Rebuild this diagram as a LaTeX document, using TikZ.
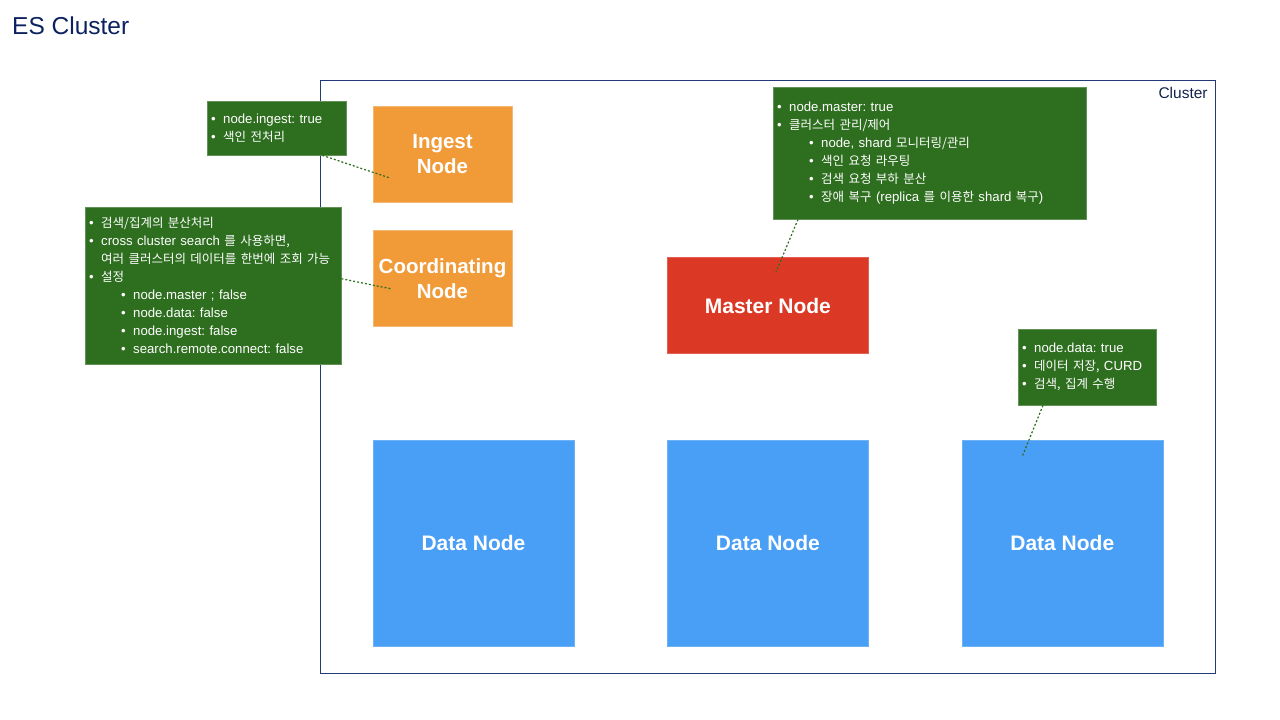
\documentclass[tikz,border=0pt]{standalone}
\usepackage{fontspec}
\setmainfont{Liberation Sans}
\newfontfamily\krfont[Scale=0.947]{Noto Sans CJK KR}
\newcommand\kr[1]{{\krfont #1}}
\newcommand\bul{\makebox[12pt][l]{\textbullet}}
\newcommand\sbul{\hspace*{32pt}\bul}
\frenchspacing
\usetikzlibrary{positioning}
\definecolor{notegreen}{RGB}{46,110,31}
\definecolor{rolebg}{RGB}{241,154,56}
\definecolor{masterbg}{RGB}{219,57,38}
\definecolor{databg}{RGB}{73,158,245}
\definecolor{framec}{RGB}{35,58,120}
\definecolor{titlec}{RGB}{12,33,95}
\tikzstyle{clusterbox} = [rectangle, anchor=north west, minimum width=895pt, minimum height=593pt, inner sep=0pt, draw=framec, line width=0.8pt]
\tikzstyle{rolenode} = [rectangle, minimum width=139pt, minimum height=96pt, text centered, align=center, draw=rolebg!70!white, fill=rolebg, text=white, font=\bfseries\fontsize{20.5}{25}\selectfont]
\tikzstyle{masternode} = [rectangle, minimum width=201pt, minimum height=96pt, text centered, draw=masterbg!80!white, fill=masterbg, text=white, font=\bfseries\fontsize{21}{25}\selectfont]
\tikzstyle{datanode} = [rectangle, minimum width=201pt, minimum height=206pt, text centered, draw=databg!80!white, fill=databg, text=white, font=\bfseries\fontsize{21}{25}\selectfont]
\tikzstyle{notebox} = [rectangle, anchor=north west, inner xsep=4pt, align=left, draw=notegreen!75!white, fill=notegreen, text=white, font=\fontsize{13.2}{18}\selectfont]
\tikzstyle{leader} = [notegreen, line width=1.2pt, dash pattern=on 2pt off 2pt]

\begin{document}
\begin{tikzpicture}[x=1pt, y=-1pt]
        \useasboundingbox (0,0) rectangle (1280,720);
        \node (title) [anchor=west, inner sep=0pt, text=titlec, font=\fontsize{24.5}{28}\selectfont] at (12,26) {ES Cluster};
        \node (cluster) [clusterbox] at (320,80) {};
        \node (clusterlabel) [anchor=north east, inner sep=0pt, text=framec!60!black, font=\fontsize{15.5}{18}\selectfont] at ([xshift=-8pt, yshift=-7pt]cluster.north east) {Cluster};
        \node (data1) [datanode] at (473.5,543) {Data Node};
        \node (data2) [datanode, right=93pt of data1] {Data Node};
        \node (data3) [datanode, right=93pt of data2] {Data Node};
        \node (master) [masternode, above=86pt of data2] {Master Node};
        \node (coord) [rolenode, above=113pt of data1.north west, anchor=south west] {Coordinating\\Node};
        \node (ingest) [rolenode, above=28pt of coord] {Ingest\\Node};
        \node (inote) [notebox, text width=131pt, minimum height=54pt] at (207,101) {\bul node.ingest: true\\\bul\kr{색인 전처리}};
        \node (cnote) [notebox, text width=248pt, minimum height=157pt] at (85,207) {\bul\kr{검색/집계의 분산처리}\\\bul cross cluster search \kr{를 사용하면,}\\\hspace*{12pt}\kr{여러 클러스터의 데이터를 한번에 조회 가능}\\\bul\kr{설정}\\\sbul node.master ; false\\\sbul node.data: false\\\sbul node.ingest: false\\\sbul search.remote.connect: false};
        \node (mnote) [notebox, text width=305pt, minimum height=132pt] at (773,87) {\bul node.master: true\\\bul\kr{클러스터 관리/제어}\\\sbul node, shard \kr{모니터링/관리}\\\sbul\kr{색인 요청 라우팅}\\\sbul\kr{검색 요청 부하 분산}\\\sbul\kr{장애 복구} (replica \kr{를 이용한} shard \kr{복구})};
        \node (dnote) [notebox, text width=130pt, minimum height=76pt] at (1018,329) {\bul node.data: true\\\bul\kr{데이터 저장,} CURD\\\bul\kr{검색, 집계 수행}};
        \coordinate (ipin) at (390,178);
        \coordinate (cpin) at (392,289);
        \coordinate (mpin) at (776,272);
        \coordinate (dpin) at (1022,457);
        \draw [leader] ([xshift=-24pt]inote.south east) -- (ipin);
        \draw [leader] ([yshift=7pt]cnote.east) -- (cpin);
        \draw [leader] ([xshift=25pt]mnote.south west) -- (mpin);
        \draw [leader] ([xshift=25pt]dnote.south west) -- (dpin);
      \end{tikzpicture}
\end{document}
